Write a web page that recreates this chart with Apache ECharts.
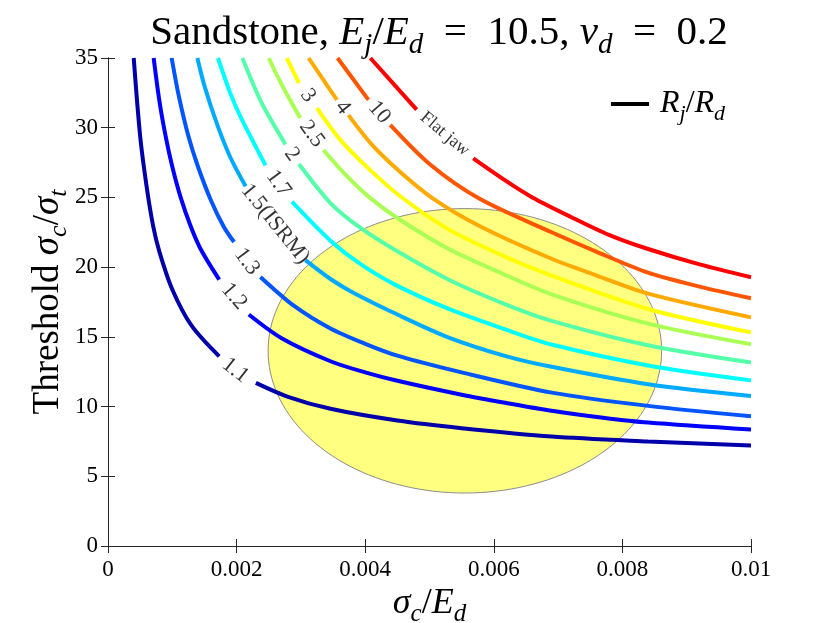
<!DOCTYPE html>
<html>
<head>
<meta charset="utf-8">
<title>Sandstone threshold curves</title>
<script src="https://cdn.jsdelivr.net/npm/echarts@6/dist/echarts.min.js"></script>
<style>
  html, body { margin: 0; padding: 0; background: #fff; }
  #chart { width: 830px; height: 623px; }
</style>
</head>
<body>
<div id="chart"></div>
<script>
  // Rj/Rd curves, [sigma_c/E_d, threshold], null = gap left for the inline label
  const curveNames = ["1.1", "1.2", "1.3", "1.5", "1.7", "2", "2.5", "3", "4", "10", "Flat jaw"];
  const curveColors = ["#0000aa", "#0000ff", "#0055ff", "#00aaff", "#00ffff", "#55ffaa",
    "#aaff55", "#ffff00", "#ffaa00", "#ff5500", "#ff0000"];

  const ratio1_1 = [[0.0004, 35], [0.0005, 29.4], [0.0006, 25.8], [0.0007, 23.0], [0.0008, 21.1],
    [0.001, 18.4], [0.0013, 15.8], [0.00173, 13.6], null, [0.0023, 11.7], [0.0028, 10.7],
    [0.00346, 9.84], [0.0045, 9.0], [0.0055, 8.45], [0.0069, 7.85], [0.0084, 7.5], [0.01, 7.2]];
  const ratio1_2 = [[0.00071, 35], [0.0008, 31.9], [0.0009, 29.3], [0.001, 27.2], [0.00113, 25.0],
    [0.00128, 23.0], [0.00144, 21.3], [0.00173, 19.1], null, [0.00219, 16.6], [0.0027, 14.9],
    [0.00346, 13.25], [0.004, 12.45], [0.0045, 11.85], [0.0055, 10.85], [0.0062, 10.25],
    [0.0069, 9.7], [0.0077, 9.2], [0.0084, 8.85], [0.01, 8.35]];
  const ratio1_3 = [[0.00099, 35], [0.0011, 32.3], [0.00125, 29.4], [0.0014, 27.2], [0.0016, 24.8],
    [0.0018, 22.9], [0.00196, 21.8], null, [0.00237, 19.3], [0.0029, 17.2], [0.00346, 15.6],
    [0.004, 14.5], [0.0045, 13.65], [0.0055, 12.45], [0.0069, 11.0], [0.0084, 10.05], [0.01, 9.3]];
  const ratio1_5 = [[0.00139, 35], [0.0015, 33.0], [0.0017, 30.2], [0.0019, 27.9], [0.00214, 25.8],
    null, [0.00307, 20.5], [0.00346, 19.15], [0.0038, 18.2], [0.0045, 16.6], [0.0053, 14.95],
    [0.0062, 13.6], [0.0069, 12.85], [0.0084, 11.6], [0.01, 10.75]];
  const ratio1_7 = [[0.00171, 35], [0.0019, 32.5], [0.00206, 30.8], [0.00245, 27.3], null,
    [0.00286, 24.7], [0.00346, 21.9], [0.0039, 20.3], [0.00444, 18.8], [0.0053, 17.0],
    [0.0062, 15.5], [0.0069, 14.45], [0.0084, 12.95], [0.01, 11.88]];
  const ratio2 = [[0.00209, 35], [0.00225, 33.2], [0.00242, 31.5], [0.00276, 28.8], null,
    [0.00297, 27.4], [0.00346, 24.6], [0.0039, 22.9], [0.00444, 21.3], [0.0053, 19.1],
    [0.0062, 17.3], [0.0069, 16.15], [0.0084, 14.4], [0.01, 13.16]];
  const ratio2_5 = [[0.0025, 35], [0.0027, 33.1], [0.00299, 30.7], null, [0.00335, 28.4],
    [0.0037, 26.6], [0.00408, 24.95], [0.00454, 23.4], [0.0053, 21.3], [0.0062, 19.4],
    [0.0069, 18.05], [0.0084, 15.95], [0.01, 14.47]];
  const ratio3 = [[0.00278, 35], [0.00297, 33.2], null, [0.00325, 31.4], [0.0036, 29.2],
    [0.004, 27.3], [0.00454, 25.1], [0.0053, 22.7], [0.0062, 20.7], [0.0069, 19.4],
    [0.0084, 17.0], [0.01, 15.32]];
  const ratio4 = [[0.00312, 35], [0.00356, 32.0], null, [0.00374, 30.9], [0.0041, 28.8],
    [0.00454, 26.84], [0.00506, 24.9], [0.0058, 22.9], [0.0069, 20.6], [0.0076, 19.4],
    [0.0084, 18.1], [0.01, 16.4]];
  const ratio10 = [[0.00357, 35], [0.00405, 32.0], null, [0.00439, 30.2], [0.005, 27.4],
    [0.00578, 24.9], [0.0069, 22.5], [0.0076, 21.1], [0.0084, 19.6], [0.0092, 18.6],
    [0.01, 17.77]];
  const flatJaw = [[0.00408, 35], [0.0048, 31.3], null, [0.00568, 27.8], [0.0062, 26.15],
    [0.0066, 25.0], [0.0072, 23.6], [0.0078, 22.3], [0.0084, 21.3], [0.0092, 20.2],
    [0.01, 19.28]];

  const curveData = [ratio1_1, ratio1_2, ratio1_3, ratio1_5, ratio1_7, ratio2, ratio2_5,
    ratio3, ratio4, ratio10, flatJaw];

  // inline labels: [x, y, angle in degrees, text]
  const curveLabels = [
    [0.00198, 12.6, 38, "1.1"],
    [0.00196, 17.9, 49, "1.2"],
    [0.00216, 20.4, 53, "1.3"],
    [0.0026, 23.1, 51, "1.5(ISRM)"],
    [0.00265, 26.0, 54, "1.7"],
    [0.00286, 28.1, 54, "2"],
    [0.00317, 29.55, 54, "2.5"],
    [0.00311, 32.3, 54, "3"],
    [0.00365, 31.45, 52, "4"],
    [0.00422, 31.1, 49, "10"],
    [0.00524, 29.55, 40, "Flat jaw"],
  ];

  // shaded region: [centre x, centre y, radius x, radius y]
  const ellipseSpec = [0.00555, 14.0, 0.00306, 10.2];

  const xTicks = { min: 0, max: 0.01, interval: 0.002 };
  const yTicks = { min: 0, max: 35, interval: 5 };

  const SERIF = "Liberation Serif";
  const AXIS_COLOR = "#262626";

  const mathRich = (size) => ({
    n: { fontFamily: SERIF, fontSize: size, fontWeight: "normal", color: "#000", lineHeight: size * 1.3 },
    i: {
      fontFamily: SERIF, fontSize: size, fontWeight: "normal", fontStyle: "italic", color: "#000",
      lineHeight: size * 1.3,
    },
    s: {
      fontFamily: SERIF, fontSize: Math.round(size * 0.7), fontWeight: "normal", fontStyle: "italic",
      color: "#000", lineHeight: size * 1.3, verticalAlign: "bottom",
    },
  });

  const chart = echarts.init(document.getElementById("chart"), null, { renderer: "canvas" });

  const lineSeries = curveData.map((points, idx) => ({
    name: curveNames[idx],
    type: "line",
    data: points.map((p) => (p ? p : ["-", "-"])),
    connectNulls: false,
    smooth: 0.3,
    showSymbol: false,
    symbol: "none",
    lineStyle: { color: curveColors[idx], width: 4 },
    itemStyle: { color: curveColors[idx] },
    z: 3,
    silent: true,
  }));

  const option = {
    animation: false,
    backgroundColor: "#fff",
    title: {
      text: "{n|Sandstone, }{i|E}{s|j}{n|/}{i|E}{s|d}{n|  =  10.5, }{i|ν}{s|d}{n|  =  0.2}",
      left: 434,
      textAlign: "center",
      top: 2,
      textStyle: { fontWeight: "normal", rich: mathRich(41) },
    },
    legend: {
      data: ["Rj/Rd"],
      left: 606,
      top: 83,
      icon: "rect",
      itemWidth: 38,
      itemHeight: 4,
      formatter: () => "{i|R}{s|j}{n|/}{i|R}{s|d}",
      textStyle: { rich: mathRich(32), padding: [0, 0, 0, 6] },
    },
    grid: { left: 108, right: 79, top: 58, bottom: 77, outerBoundsMode: "none" },
    xAxis: [
      {
        type: "value",
        ...xTicks,
        position: "bottom",
        name: "{i|σ}{s|c}{n|/}{i|E}{s|d}",
        nameLocation: "middle",
        nameGap: 34,
        nameTextStyle: { rich: mathRich(36) },
        axisLine: { show: true, lineStyle: { color: AXIS_COLOR, width: 1 } },
        axisTick: { show: true, inside: true, length: 7, lineStyle: { color: AXIS_COLOR } },
        axisLabel: {
          color: "#000",
          fontFamily: SERIF,
          fontSize: 23,
          margin: 12,
          formatter: (v) => String(Number(v.toFixed(4))),
        },
        splitLine: { show: false },
      },
      {
        type: "value",
        ...xTicks,
        position: "top",
        axisLine: { show: true, lineStyle: { color: AXIS_COLOR, width: 1 } },
        axisTick: { show: true, inside: true, length: 7, lineStyle: { color: AXIS_COLOR } },
        axisLabel: { show: false },
        splitLine: { show: false },
      },
    ],
    yAxis: [
      {
        type: "value",
        ...yTicks,
        position: "left",
        name: "{n|Threshold }{i|σ}{s|c}{n|/}{i|σ}{s|t}",
        nameLocation: "middle",
        nameGap: 36,
        nameMoveOverlap: false,
        nameRotate: 90,
        nameTextStyle: { rich: mathRich(37) },
        axisLine: { show: true, lineStyle: { color: AXIS_COLOR, width: 1 } },
        axisTick: { show: true, inside: true, length: 7, lineStyle: { color: AXIS_COLOR } },
        axisLabel: { color: "#000", fontFamily: SERIF, fontSize: 23, margin: 10 },
        splitLine: { show: false },
      },
      {
        type: "value",
        ...yTicks,
        position: "right",
        axisLine: { show: true, lineStyle: { color: AXIS_COLOR, width: 1 } },
        axisTick: { show: true, inside: true, length: 7, lineStyle: { color: AXIS_COLOR } },
        axisLabel: { show: false },
        splitLine: { show: false },
      },
    ],
    series: [
      {
        name: "region",
        type: "custom",
        data: [ellipseSpec],
        z: 1,
        silent: true,
        renderItem(params, api) {
          const cx = api.value(0);
          const cy = api.value(1);
          const rx = api.value(2);
          const ry = api.value(3);
          const points = [];
          for (let k = 0; k <= 160; k++) {
            const t = (k / 160) * Math.PI * 2;
            points.push(api.coord([cx + rx * Math.cos(t), cy + ry * Math.sin(t)]));
          }
          return {
            type: "polygon",
            shape: { points },
            style: { fill: "#ffff80", stroke: "#8c8c8c", lineWidth: 1 },
          };
        },
      },
      ...lineSeries,
      {
        name: "labels",
        type: "scatter",
        symbolSize: 0,
        z: 5,
        silent: true,
        data: curveLabels.map(([x, y, angle, text]) => ({
          value: [x, y],
          label: {
            show: true,
            position: "inside",
            rotate: -angle,
            formatter: text,
            fontSize: text === "Flat jaw" ? 18 : 22,
          },
        })),
        label: { color: "#000", fontFamily: SERIF },
      },
      {
        name: "Rj/Rd",
        type: "line",
        data: [],
        itemStyle: { color: "#000" },
        lineStyle: { color: "#000" },
      },
    ],
  };

  chart.setOption(option);
</script>
</body>
</html>
